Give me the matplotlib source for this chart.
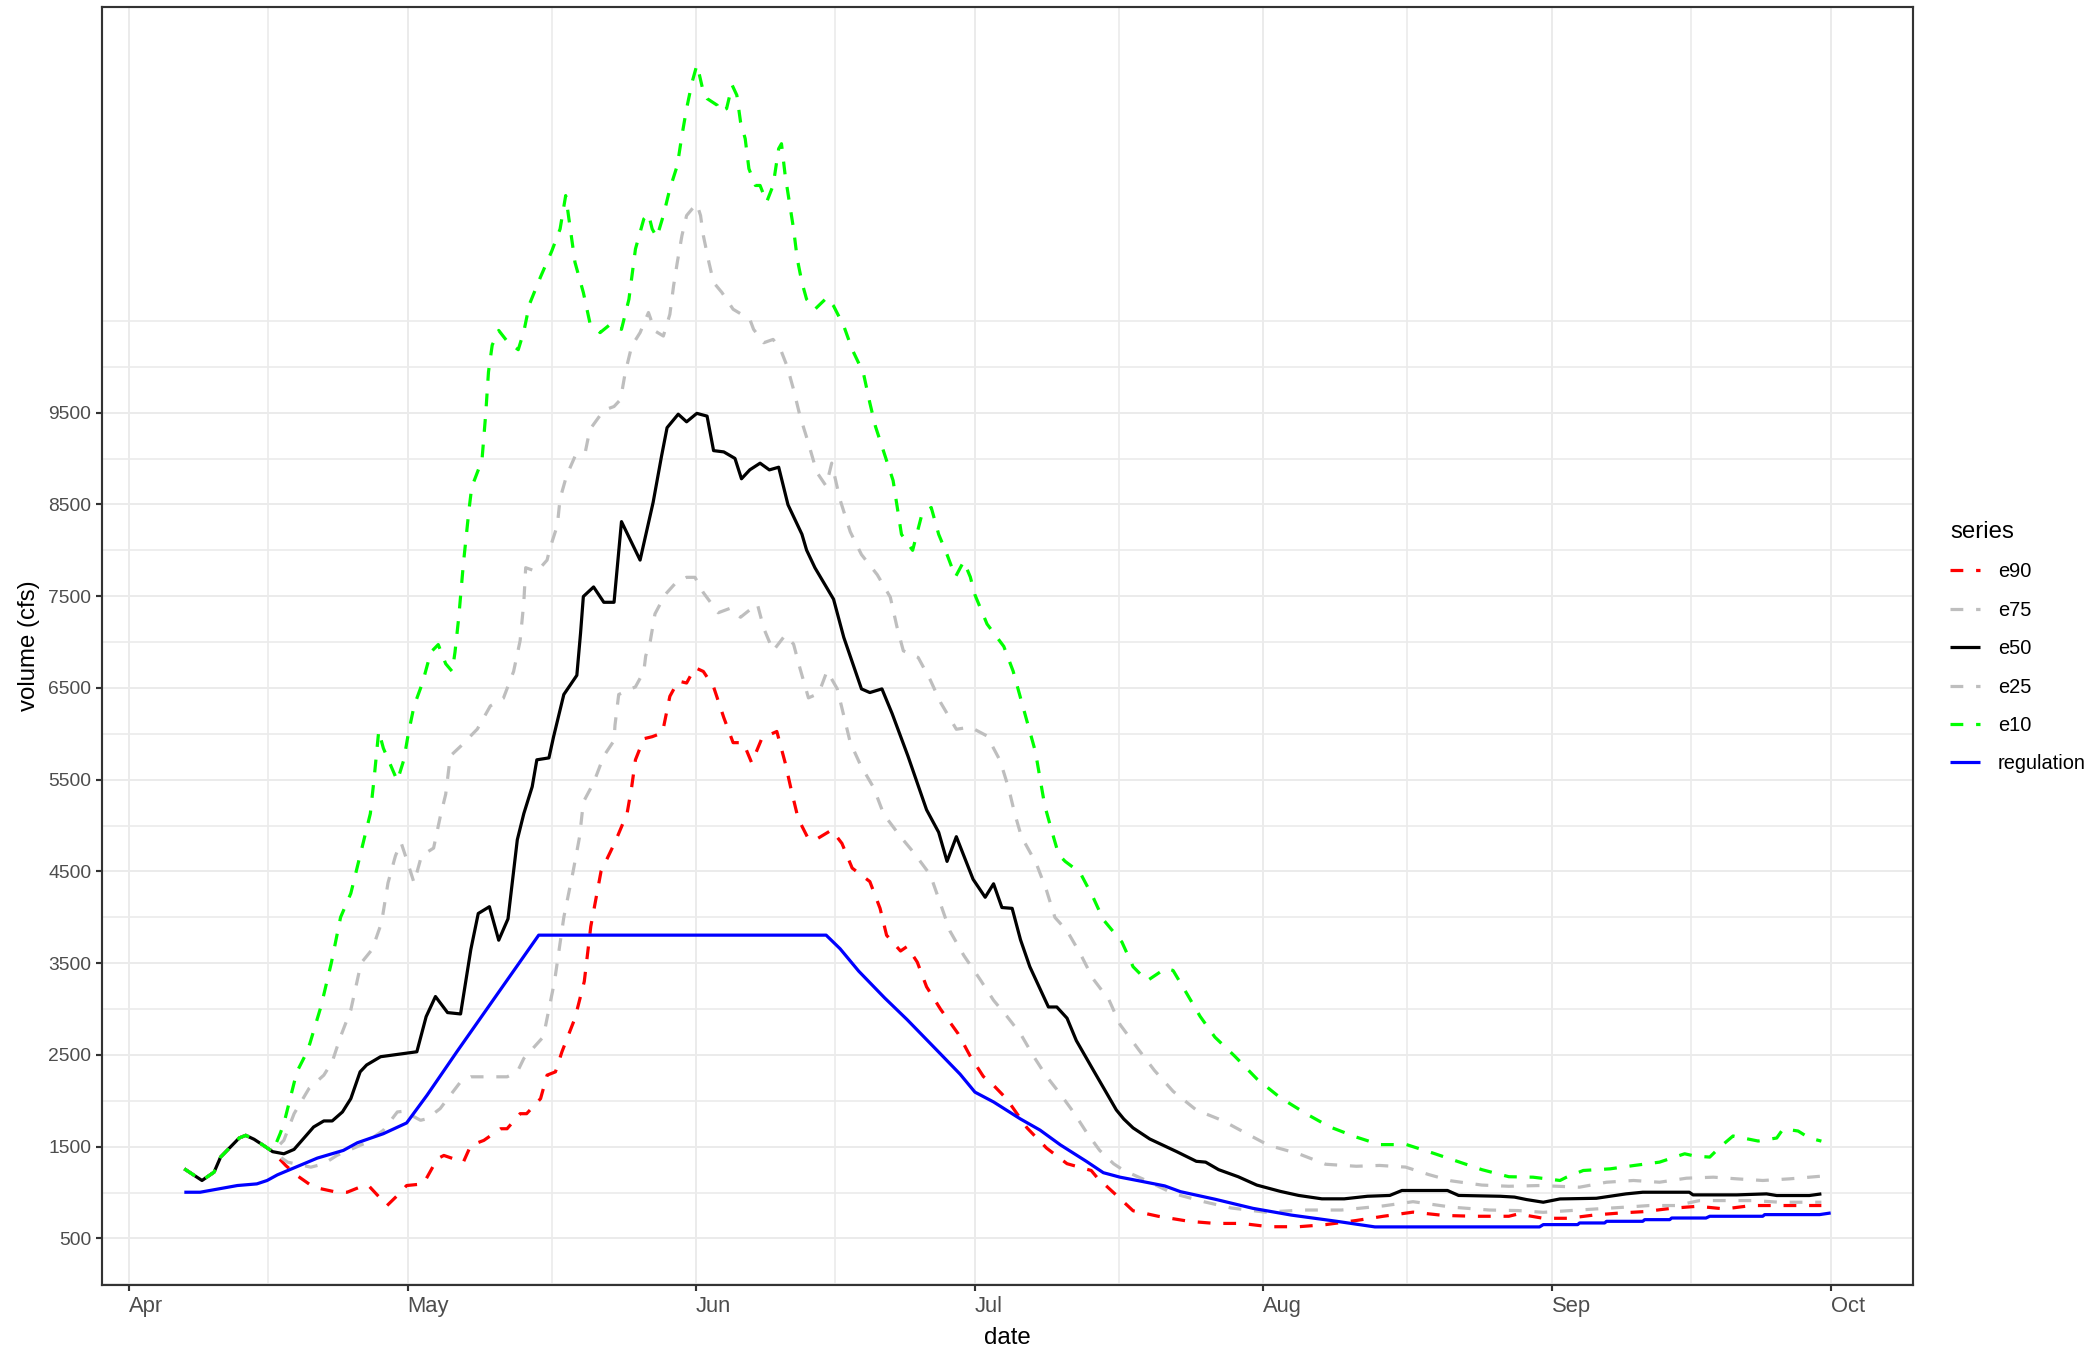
import datetime as dt
import numpy as np
import matplotlib
matplotlib.use("Agg")
import matplotlib.pyplot as plt
import matplotlib.dates as mdates
from matplotlib.lines import Line2D

plt.rcParams["font.family"] = ["Liberation Sans", "DejaVu Sans"]

season_start = dt.date(2021, 4, 1)

# observed flow shared by every ensemble trace before the forecast splits
# (days after Apr 1, volume in cfs)
obs_day = [6.0, 7.9, 9.2, 9.9, 11.9, 12.6, 13.5, 14.5, 15.5]
obs_vol = [1258, 1131, 1222, 1386, 1594, 1623, 1580, 1514, 1445]

e90_day = [16.9, 18.1, 19.9, 22.4, 23.5, 25.3, 25.8, 27.8, 28.9, 29.9, 31.7, 33.2, 33.9,
           36.0, 36.8, 38.2, 40.0, 40.7, 42.1, 42.8, 44.3, 45.0, 45.9, 46.6, 48.0, 49.0,
           49.7, 50.8, 52.3, 53.6, 54.1, 54.5, 55.4, 56.3, 57.4, 58.2, 59.1, 60.0, 60.9,
           61.8, 62.9, 64.0, 65.0, 66.1, 67.0, 68.1, 69.7, 70.6, 71.3, 72.0, 73.1, 74.0,
           75.6, 76.7, 77.8, 79.7, 80.8, 81.5, 83.0, 83.7, 84.8, 85.8, 87.3, 89.2, 90.5,
           91.9, 93.0, 94.4, 96.6, 98.7, 100.9, 103.5, 104.1, 106.2, 108.0, 110.7, 114.0,
           116.8, 119.7, 122.6, 125.8, 128.7, 132.0, 134.9, 138.1, 141.4, 144.7, 148.4,
           149.4, 152.1, 154.8, 157.6, 160.4, 163.0, 165.9, 168.7, 171.6, 174.5, 177.2,
           179.7, 182.0]
e90_vol = [1295, 1186, 1058, 1003, 1003, 1076, 1076, 858, 967, 1076, 1094, 1367, 1404,
           1331, 1514, 1568, 1695, 1695, 1859, 1859, 2023, 2279, 2315, 2534, 2900, 3300,
           3900, 4500, 4817, 5130, 5423, 5716, 5946, 5968, 6010, 6408, 6575, 6553, 6721,
           6679, 6511, 6176, 5903, 5903, 5683, 5952, 6025, 5683, 5366, 5073, 4853, 4853,
           4951, 4805, 4536, 4389, 4097, 3804, 3632, 3681, 3511, 3242, 2998, 2730, 2485,
           2265, 2168, 2021, 1704, 1484, 1314, 1240, 1167, 971, 801, 741, 686,
           663, 663, 627, 627, 650, 695, 741, 786, 750, 741, 741,
           766, 719, 719, 755, 777, 792, 828, 850, 821, 858, 858,
           858, 858]

e75_day = [16.7, 17.8, 19.4, 21.0, 21.9, 22.8, 23.9, 25.0, 26.2, 27.2, 27.9, 28.7, 29.3,
           30.0, 30.7, 31.5, 32.8, 33.5, 34.1, 34.6, 35.7, 37.5, 38.9, 40.3, 41.4, 42.1,
           42.5, 42.7, 43.9, 45.0, 45.3, 46.1, 46.4, 47.1, 48.0, 49.1, 49.6, 51.1, 52.2,
           52.9, 53.4, 54.1, 55.0, 55.9, 56.6, 57.5, 58.2, 58.6, 59.0, 59.5, 60.0, 60.6,
           61.1, 61.5, 61.8, 62.4, 62.9, 63.8, 65.0, 66.8, 67.2, 68.3, 69.3, 70.1, 70.8,
           71.5, 72.2, 73.0, 74.0, 75.0, 75.6, 76.5, 77.6, 78.8, 80.5, 81.9, 82.6, 83.3,
           84.9, 86.2, 87.3, 89.0, 90.5, 92.3, 93.7, 94.6, 95.3, 96.0, 97.6, 98.7, 99.6,
           100.9, 102.3, 103.7, 105.4, 106.6, 108.6, 110.3, 112.3, 114.8, 117.6, 120.5,
           122.6, 125.8, 128.7, 132.0, 134.5, 137.3, 139.8, 142.2, 145.5, 148.4, 151.7,
           156.0, 158.9, 161.8, 164.6, 167.5, 170.4, 172.9, 175.7, 178.6, 182.0]
e75_vol = [1568, 1859, 2133, 2279, 2425, 2700, 2990, 3500, 3650, 3940, 4375, 4670, 4815,
           4600, 4375, 4670, 4754, 5089, 5340, 5758, 5863, 6051, 6303, 6386, 6679, 7013,
           7433, 7810, 7767, 7893, 8019, 8270, 8563, 8814, 9023, 9065, 9316, 9526, 9567,
           9643, 9935, 10226, 10372, 10591, 10390, 10335, 10571, 10882, 11138, 11430, 11648, 11721,
           11776, 11648, 11430, 11138, 10919, 10809, 10627, 10517, 10408, 10262, 10298, 10189, 10007,
           9752, 9460, 9200, 8850, 8700, 8950, 8550, 8200, 7953, 7733, 7489, 7172, 6904,
           6831, 6586, 6342, 6049, 6073, 5976, 5708, 5414, 5121, 4878, 4585, 4291, 3998,
           3852, 3608, 3329, 3102, 2830, 2557, 2330, 2103, 1899, 1785, 1626,
           1513, 1422, 1308, 1286, 1295, 1277, 1195, 1127, 1081, 1068, 1076,
           1058, 1112, 1131, 1112, 1156, 1167, 1149, 1131, 1149, 1178]

e50_day = [16.7, 17.8, 18.8, 19.9, 21.0, 21.9, 23.0, 23.9, 24.9, 25.6, 27.1, 28.9, 31.0,
           32.0, 33.0, 34.3, 35.7, 36.8, 37.6, 38.8, 39.8, 40.8, 41.8, 42.5, 43.4, 43.9,
           45.2, 45.7, 46.8, 48.2, 48.6, 48.9, 50.0, 51.1, 52.2, 53.0, 55.0, 56.4, 57.3,
           57.9, 59.1, 60.0, 61.1, 62.2, 62.9, 64.0, 65.2, 65.9, 66.8, 67.9, 68.9, 69.9,
           70.9, 72.4, 72.9, 73.8, 75.8, 76.9, 78.8, 79.7, 81.0, 82.1, 83.8, 85.8, 87.1,
           88.0, 89.0, 90.8, 92.1, 93.0, 93.9, 95.0, 95.9, 96.9, 98.9, 99.8, 100.9, 101.9,
           103.7, 106.2, 107.0, 108.0, 109.8, 112.7, 114.8, 115.8, 117.2, 119.3, 121.3,
           123.8, 125.8, 128.3, 130.7, 133.2, 135.6, 136.9, 141.8, 143.0, 147.5, 149.0,
           150.3, 152.1, 153.9, 157.8, 161.0, 162.8, 167.8, 168.2, 172.9, 176.1, 177.2,
           180.7, 182.0]
e50_vol = [1422, 1470, 1586, 1714, 1780, 1780, 1878, 2023, 2315, 2390, 2480, 2505, 2534,
           2917, 3136, 2961, 2946, 3647, 4041, 4115, 3750, 3983, 4845, 5130, 5423, 5716,
           5737, 5968, 6428, 6637, 7098, 7496, 7600, 7433, 7433, 8312, 7893, 8521, 9023,
           9336, 9483, 9400, 9492, 9462, 9086, 9072, 9001, 8779, 8877, 8949, 8876, 8905,
           8496, 8174, 8002, 7809, 7466, 7050, 6489, 6449, 6489, 6219, 5756, 5171, 4926,
           4609, 4878, 4414, 4218, 4365, 4106, 4097, 3754, 3461, 3022, 3022, 2900, 2656,
           2338, 1900, 1801, 1704, 1583, 1445, 1340, 1331, 1249, 1172, 1081,
           1013, 968, 931, 931, 959, 968, 1022, 1022, 968, 959, 950,
           923, 894, 930, 937, 985, 1003, 1003, 974, 974, 985, 967,
           967, 985]

e25_day = [17.1, 19.6, 21.0, 22.4, 25.3, 27.4, 28.9, 29.6, 31.4, 32.1, 33.5, 34.6, 35.7,
           36.8, 40.7, 41.8, 42.5, 44.6, 45.8, 46.8, 47.8, 48.5, 48.9, 50.0, 51.1, 52.2,
           52.3, 52.7, 53.6, 54.5, 55.4, 55.6, 56.1, 56.6, 57.7, 58.8, 60.0, 60.9, 61.8,
           63.4, 64.7, 65.8, 67.6, 68.3, 69.3, 70.6, 71.5, 72.2, 73.1, 74.2, 75.1, 76.2,
           76.9, 77.6, 78.7, 80.1, 81.2, 83.0, 84.4, 86.2, 87.3, 88.3, 89.8, 91.6, 93.0,
           94.4, 95.9, 97.3, 98.7, 100.2, 101.6, 103.0, 104.4, 105.9, 107.0, 109.5, 112.3,
           115.6, 118.5, 122.2, 126.3, 130.4, 134.9, 138.1, 142.2, 146.3, 149.4, 152.1,
           155.0, 157.8, 160.7, 163.5, 166.4, 168.9, 171.8, 174.7, 177.5, 180.4, 182.0]
e25_vol = [1331, 1276, 1313, 1404, 1531, 1678, 1878, 1886, 1787, 1805, 1914, 2061, 2206,
           2261, 2261, 2315, 2461, 2697, 3300, 4000, 4500, 4880, 5256, 5465, 5758, 5926,
           6092, 6428, 6469, 6511, 6679, 6846, 7013, 7307, 7517, 7641, 7705, 7705, 7538,
           7319, 7368, 7270, 7416, 7148, 6904, 7075, 6977, 6709, 6391, 6440, 6684, 6489,
           6196, 5903, 5659, 5414, 5121, 4878, 4707, 4462, 4145, 3852, 3584, 3315, 3095,
           2925, 2730, 2485, 2265, 2070, 1875, 1655, 1460, 1314, 1240, 1127, 990,
           900, 832, 786, 809, 809, 854, 900, 841, 809, 803, 784,
           803, 821, 839, 858, 858, 912, 912, 912, 894, 894, 894]

e10_day = [16.3, 16.7, 17.2, 18.1, 19.2, 19.5, 20.7, 21.8, 22.8, 23.9, 25.3, 26.0, 26.4,
           26.9, 27.4, 28.9, 29.6, 30.1, 30.7, 31.6, 32.5, 33.3, 34.1, 34.8, 35.1, 35.5,
           36.0, 36.6, 36.9, 38.0, 38.4, 38.7, 39.1, 39.8, 40.7, 41.9, 42.5, 43.1, 44.3,
           45.5, 46.4, 47.0, 47.3, 47.7, 48.0, 48.9, 49.6, 50.7, 51.8, 53.0, 53.8, 54.5,
           55.4, 55.9, 56.3, 56.8, 57.5, 58.2, 59.0, 59.5, 60.0, 60.6, 61.1, 61.3, 61.8,
           62.2, 63.3, 63.6, 64.3, 64.9, 65.4, 65.8, 66.3, 66.7, 67.4, 67.9, 68.6, 69.3,
           69.9, 70.2, 70.6, 71.1, 71.5, 71.9, 72.4, 72.9, 73.8, 75.1, 75.8, 76.9, 77.8,
           79.0, 79.7, 80.3, 82.2, 83.1, 84.3, 85.3, 86.3, 87.1, 88.0, 88.9, 89.8, 90.5,
           91.0, 92.3, 94.1, 95.1, 95.9, 96.7, 97.5, 98.0, 98.5, 99.3, 100.0, 100.7, 102.3,
           103.7, 104.8, 106.8, 108.0, 109.5, 111.5, 112.3, 113.5, 115.2, 116.8, 118.9,
           121.3, 123.8, 126.7, 129.1, 132.0, 134.5, 137.4, 140.2, 143.1, 145.5, 148.4,
           151.0, 153.9, 154.6, 156.4, 159.3, 161.9, 164.6, 167.3, 168.4, 170.0, 171.1,
           172.5, 175.2, 177.2, 177.9, 179.5, 180.7, 182.0]
e10_vol = [1641, 1750, 1951, 2315, 2534, 2625, 3030, 3500, 4000, 4260, 4837, 5130, 5508,
           6030, 5842, 5487, 5716, 6010, 6303, 6553, 6889, 6972, 6763, 6679, 6889, 7265,
           7851, 8437, 8688, 8981, 9483, 9943, 10236, 10396, 10279, 10186, 10383, 10680, 10980,
           11260, 11502, 11866, 11648, 11357, 11138, 10809, 10481, 10372, 10463, 10408, 10736, 11283,
           11611, 11666, 11502, 11411, 11648, 11939, 12194, 12522, 12814, 13105, 13288, 13215, 12996,
           12923, 12850, 12777, 12814, 13069, 12960, 12668, 12486, 12158, 11976, 11976, 11794, 11976,
           12377, 12431, 12085, 11757, 11502, 11174, 10919, 10736, 10627, 10755, 10663, 10444, 10189,
           9934, 9606, 9351, 8760, 8174, 7999, 8393, 8466, 8174, 7953, 7709, 7880, 7709,
           7514, 7196, 6952, 6684, 6391, 6098, 5805, 5512, 5219, 4926, 4682, 4609, 4487,
           4218, 3974, 3730, 3461, 3307, 3443, 3420, 3216, 2921, 2693, 2489,
           2239, 2035, 1853, 1717, 1604, 1522, 1522, 1431, 1331, 1249, 1172,
           1167, 1131, 1167, 1240, 1258, 1295, 1331, 1422, 1397, 1386, 1495,
           1616, 1561, 1594, 1695, 1670, 1594, 1560]

reg_day = [6.0, 7.7, 11.7, 13.8, 14.9, 16.0, 20.3, 23.1, 24.6, 27.4, 29.9, 32.1, 35.3,
           44.1, 75.0, 76.5, 78.5, 81.3, 83.7, 87.3, 89.4, 91.0, 93.0, 95.9, 98.0, 100.2,
           103.0, 104.8, 106.6, 108.5, 111.4, 113.1, 116.8, 120.9, 125.0, 129.9, 134.0,
           151.7, 152.1, 155.8, 156.0, 158.7, 158.9, 162.8, 163.0, 165.7, 165.9, 169.6,
           170.0, 175.7, 175.9, 181.8, 183.0]
reg_vol = [1003, 1003, 1076, 1094, 1131, 1192, 1375, 1459, 1542, 1641, 1758, 2061, 2534,
           3805, 3805, 3657, 3413, 3120, 2885, 2510, 2290, 2094, 1987, 1801, 1680, 1518,
           1338, 1216, 1167, 1130, 1072, 1009, 927, 827, 754, 686, 625,
           625, 650, 650, 668, 668, 686, 686, 704, 704, 722, 722,
           741, 741, 759, 759, 777]

series_names = ["e90", "e75", "e50", "e25", "e10", "regulation"]
series_colors = ["#FF0000", "#BEBEBE", "#000000", "#BEBEBE", "#00FF00", "#0000FF"]
series_dashed = [True, True, False, True, True, False]

y_major = np.arange(500, 10000, 1000)
y_minor = list(range(0, 11000, 1000)) + [10500]

base = mdates.date2num(season_start)


def with_obs(days, vols):
    return base + np.array(obs_day + days), np.array(obs_vol + vols)


traces = [
    with_obs(e90_day, e90_vol),
    with_obs(e75_day, e75_vol),
    with_obs(e50_day, e50_vol),
    with_obs(e25_day, e25_vol),
    with_obs(e10_day, e10_vol),
    (base + np.array(reg_day), np.array(reg_vol)),
]

fig = plt.figure(figsize=(2094 / 144, 1352 / 144), dpi=144)
ax = fig.add_axes([102 / 2094, 1 - 1285 / 1352, 1811 / 2094, 1278 / 1352])

lw = 1.6
handles = []
for (x, y), name, col, dashed in zip(traces, series_names, series_colors, series_dashed):
    ls = (0, (4, 4)) if dashed else "-"
    ax.plot(x, y, color=col, lw=lw, linestyle=ls, solid_capstyle="butt",
            dash_capstyle="butt", solid_joinstyle="round")
    handles.append(Line2D([], [], color=col, lw=lw, linestyle=ls,
                          solid_capstyle="butt", dash_capstyle="butt"))

# ggplot-style 5% expansion of the data range
all_x = np.concatenate([t[0] for t in traces])
all_y = np.concatenate([t[1] for t in traces])
xr = all_x.max() - all_x.min()
yr = all_y.max() - all_y.min()

months = [dt.date(2021, m, 1) for m in range(4, 11)]
x_major = mdates.date2num(months)
x_minor = (x_major[:-1] + x_major[1:]) / 2

ax.set_xticks(x_major)
ax.set_xticks(x_minor, minor=True)
ax.set_xticklabels([d.strftime("%b") for d in months])
ax.set_yticks(y_major)
ax.set_yticks(y_minor, minor=True)
ax.set_xlim(all_x.min() - 0.05 * xr, all_x.max() + 0.05 * xr)
ax.set_ylim(all_y.min() - 0.05 * yr, all_y.max() + 0.05 * yr)

ax.grid(which="major", color="#EBEBEB", lw=1.0)
ax.grid(which="minor", color="#EBEBEB", lw=0.8)
ax.set_axisbelow(True)

for sp in ax.spines.values():
    sp.set_color("#333333")
    sp.set_linewidth(1.07)

ax.tick_params(which="major", length=3, width=1.07, color="#333333",
               labelcolor="#4D4D4D", pad=2.4)
ax.tick_params(axis="y", which="major", labelsize=9.6)
ax.tick_params(axis="x", which="major", labelsize=11)
ax.tick_params(which="minor", length=0)
for lbl in ax.get_xticklabels():
    lbl.set_horizontalalignment("left")

ax.set_xlabel("date", fontsize=12)
ax.set_ylabel("volume (cfs)", fontsize=12)
ax.xaxis.set_label_coords(0.5, -(1338 - 1285) / 1278)
ax.xaxis.label.set_verticalalignment("center")
ax.yaxis.set_label_coords(-(102 - 29) / 1811, 0.5)
ax.yaxis.label.set_verticalalignment("center")

leg = fig.legend(handles, series_names, loc="upper left",
                 bbox_to_anchor=(1950 / 2094, 1 - 521 / 1352), frameon=False,
                 title="series", title_fontsize=12, fontsize=10,
                 handlelength=1.5, handletextpad=0.9, labelspacing=0.97,
                 borderaxespad=0, borderpad=0, alignment="left")

fig.savefig("out.png", dpi=144)
